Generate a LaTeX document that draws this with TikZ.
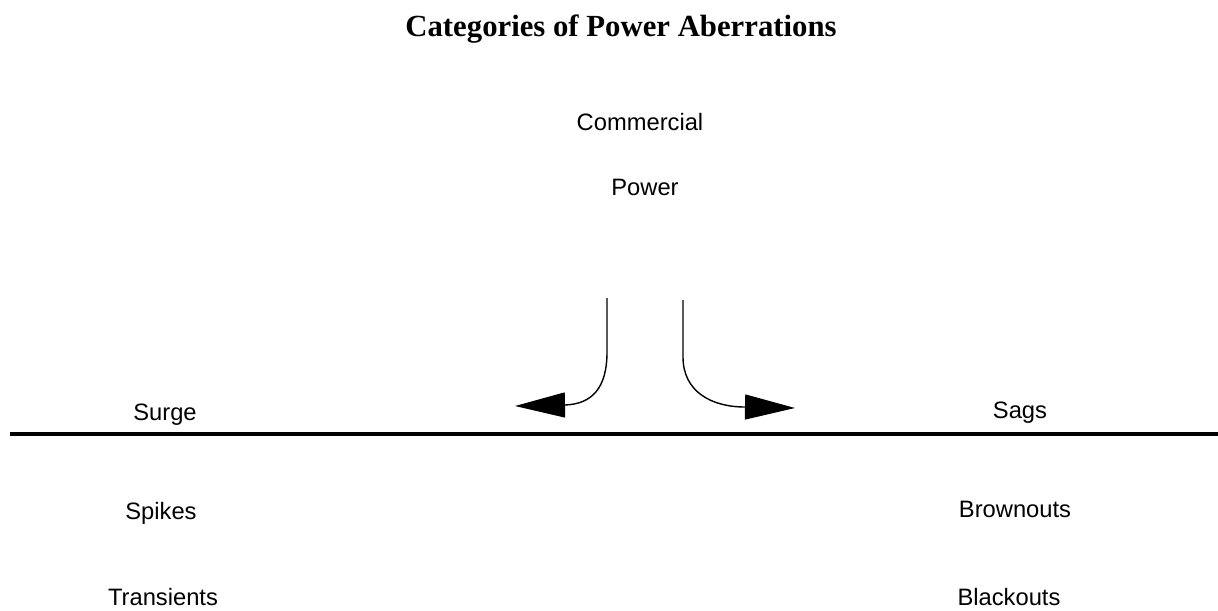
\documentclass[tikz,border=0pt]{standalone}
\usepackage{fontspec}
\setmainfont{Liberation Serif}
\setsansfont{Liberation Sans}
\usetikzlibrary{arrows.meta,positioning}

\begin{document}
\begin{tikzpicture}[x=0.02cm,y=-0.02cm,
  lbl/.style={font=\sffamily\fontsize{13.5}{16}\selectfont,anchor=base,inner sep=0pt},
  flow/.style={line width=0.8pt,-{Triangle[length=1cm,width=0.5cm]}}]
  \useasboundingbox (0,0) rectangle (1218,610);
  % Title
  \node[font=\bfseries\fontsize{17.5}{20}\selectfont,anchor=base,inner sep=0pt] (title) at (621,36) {Categories of Power Aberrations};
  % Source
  \node[lbl] (comm) at (640,130) {Commercial};
  \node[lbl] (power) at (645,195) {Power};
  % Split arrows
  \coordinate (lstart) at (607,298);
  \coordinate (ltip) at (515,406);
  \coordinate (rstart) at (683,300);
  \coordinate (rtip) at (795,408);
  \draw[flow] (lstart) -- (607,352) .. controls (607,388) and (592,404) .. (565,405) -- (ltip);
  \draw[flow] (rstart) -- (683,357) .. controls (683,392) and (712,407) .. (745,407) -- (rtip);
  % Dividing line
  \coordinate (lineL) at (10,434);
  \coordinate (lineR) at (1218,434);
  \draw[line width=2.8pt] (lineL) -- (lineR);
  % Left side
  \node[lbl] (surge) at (165,420) {Surge};
  \node[lbl] (spikes) at (161,519) {Spikes};
  \node[lbl] (trans) at (163,605) {Transients};
  % Right side
  \node[lbl] (sags) at (1020,418) {Sags};
  \node[lbl] (brown) at (1015,517) {Brownouts};
  \node[lbl] (black) at (1009,605) {Blackouts};
\end{tikzpicture}
\end{document}
